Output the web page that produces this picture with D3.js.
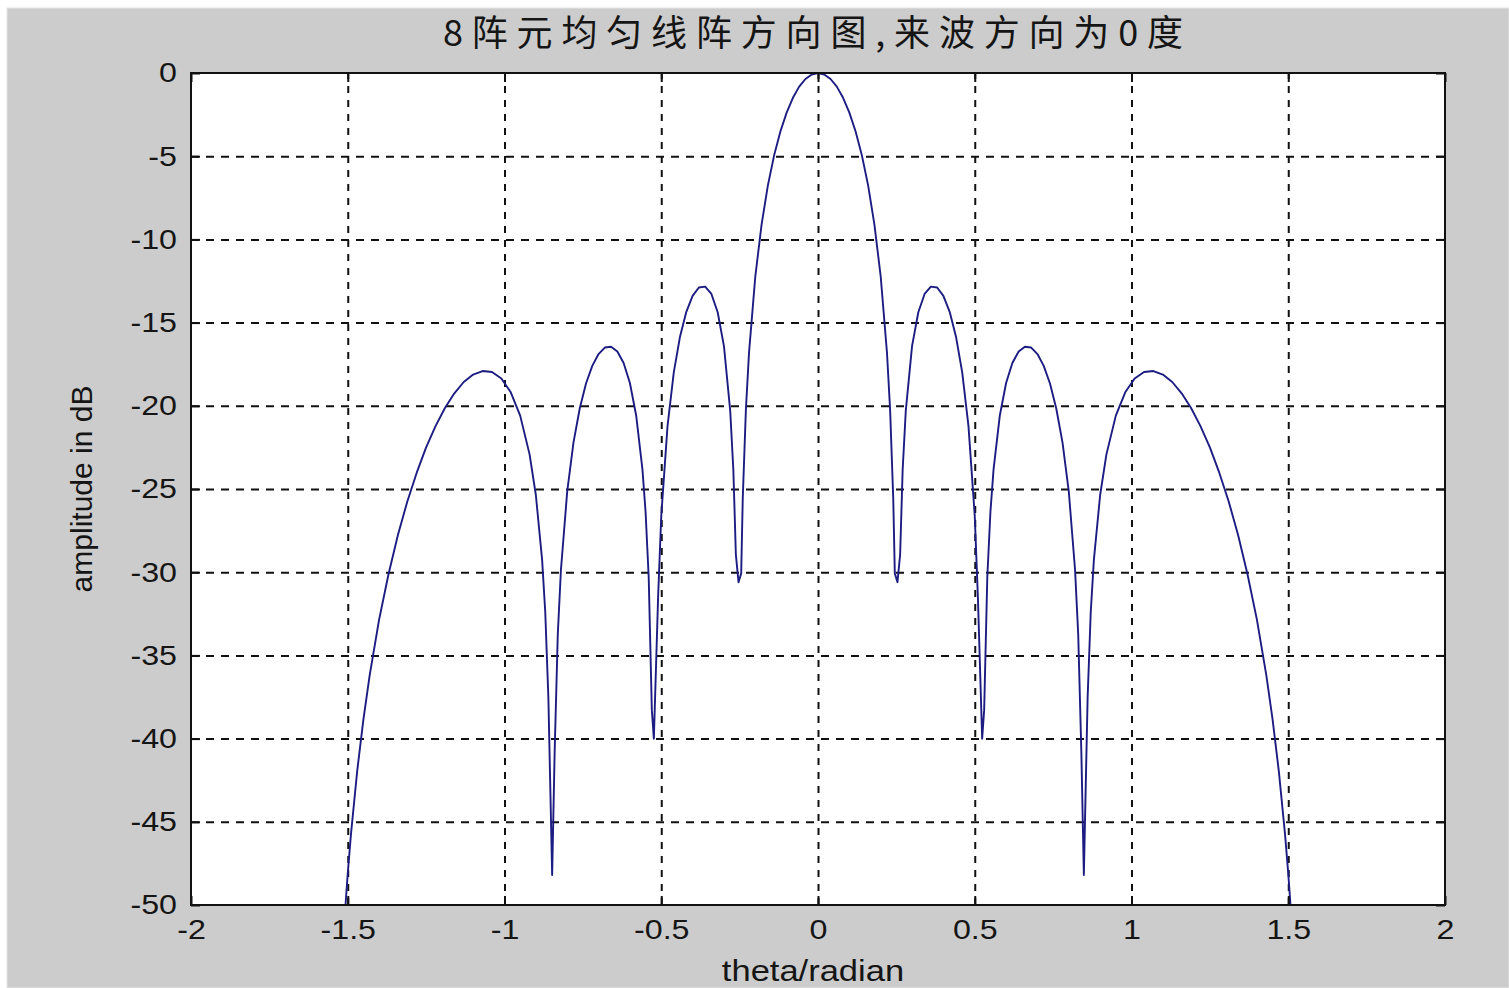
<!DOCTYPE html>
<html>
<head>
<meta charset="utf-8">
<script src="https://cdn.jsdelivr.net/npm/d3@7/dist/d3.min.js"></script>
<style>
  html, body { margin: 0; padding: 0; background: #ffffff; }
  svg { display: block; }
</style>
</head>
<body>
<svg id="chart" width="1509" height="988"></svg>
<script>
// ---------------- data ----------------
const titleText = "8阵元均匀线阵方向图,来波方向为0度";
const xLabelText = "theta/radian";
const yLabelText = "amplitude in dB";

const xTicks = [-2, -1.5, -1, -0.5, 0, 0.5, 1, 1.5, 2];
const xTickLabels = ["-2", "-1.5", "-1", "-0.5", "0", "0.5", "1", "1.5", "2"];
const yTicks = [0, -5, -10, -15, -20, -25, -30, -35, -40, -45, -50];
const yTickLabels = ["0", "-5", "-10", "-15", "-20", "-25", "-30", "-35", "-40", "-45", "-50"];

const theta = [
  -1.51, -1.505, -1.50, -1.49, -1.47, -1.45, -1.43,
  -1.40, -1.37, -1.34, -1.31, -1.28, -1.25, -1.22, -1.19, -1.16, -1.13, -1.10, -1.07, -1.04, -1.01, -0.98, -0.95,
  -0.92, -0.90,
  -0.88, -0.87, -0.86, -0.848, -0.84, -0.83,
  -0.82, -0.80, -0.78, -0.76, -0.74, -0.72, -0.70, -0.68, -0.66, -0.64, -0.62, -0.60, -0.58,
  -0.56, -0.55, -0.54, -0.53, -0.5236, -0.51,
  -0.50, -0.48, -0.46, -0.44, -0.42, -0.40, -0.38, -0.36, -0.34, -0.32, -0.30,
  -0.28, -0.27,
  -0.262, -0.2535, -0.245, -0.24, -0.23,
  -0.22, -0.20, -0.18, -0.16, -0.14, -0.12, -0.10, -0.08, -0.06, -0.04, -0.02,
  0,
  0.02, 0.04, 0.06, 0.08, 0.10, 0.12, 0.14, 0.16, 0.18, 0.20, 0.22,
  0.23, 0.24, 0.245, 0.2535, 0.262,
  0.27, 0.28,
  0.30, 0.32, 0.34, 0.36, 0.38, 0.40, 0.42, 0.44, 0.46, 0.48, 0.50,
  0.51, 0.5236, 0.53, 0.54, 0.55, 0.56,
  0.58, 0.60, 0.62, 0.64, 0.66, 0.68, 0.70, 0.72, 0.74, 0.76, 0.78, 0.80, 0.82,
  0.83, 0.84, 0.848, 0.86, 0.87, 0.88,
  0.90, 0.92,
  0.95, 0.98, 1.01, 1.04, 1.07, 1.10, 1.13, 1.16, 1.19, 1.22, 1.25, 1.28, 1.31, 1.34, 1.37, 1.40,
  1.43, 1.45, 1.47, 1.49, 1.50, 1.505, 1.51
];

const amplitudeDb = [
  -50.8, -49.43, -48.10, -45.80, -41.97, -38.84, -36.19,
  -32.85, -30.12, -27.76, -25.75, -24.02, -22.50, -21.22, -20.13, -19.25, -18.57, -18.12, -17.91, -17.97, -18.36, -19.19, -20.59,
  -22.92, -25.36,
  -29.26, -32.39, -37.56, -48.2, -40.78, -33.72,
  -29.87, -25.16, -22.21, -20.16, -18.66, -17.60, -16.89, -16.50, -16.45, -16.74, -17.43, -18.63, -20.58,
  -23.82, -26.37, -30.32, -38.29, -40.0, -31.48,
  -26.62, -21.22, -17.99, -15.83, -14.35, -13.39, -12.89, -12.84, -13.28, -14.38, -16.41,
  -20.30, -23.86,
  -28.94, -30.6, -30.07, -25.55, -20.23,
  -16.80, -12.23, -9.11, -6.77, -4.95, -3.52, -2.38, -1.49, -0.82, -0.36, -0.09,
  0,
  -0.09, -0.36, -0.82, -1.49, -2.38, -3.52, -4.95, -6.77, -9.11, -12.23, -16.80,
  -20.23, -25.55, -30.07, -30.6, -28.94,
  -23.86, -20.30,
  -16.41, -14.38, -13.28, -12.84, -12.89, -13.39, -14.35, -15.83, -17.99, -21.22, -26.62,
  -31.48, -40.0, -38.29, -30.32, -26.37, -23.82,
  -20.58, -18.63, -17.43, -16.74, -16.45, -16.50, -16.89, -17.60, -18.66, -20.16, -22.21, -25.16, -29.87,
  -33.72, -40.78, -48.2, -37.56, -32.39, -29.26,
  -25.36, -22.92,
  -20.59, -19.19, -18.36, -17.97, -17.91, -18.12, -18.57, -19.25, -20.13, -21.22, -22.50, -24.02, -25.75, -27.76, -30.12, -32.85,
  -36.19, -38.84, -41.97, -45.80, -48.10, -49.43, -50.8
];

// ---------------- layout ----------------
const W = 1509, H = 988;
const pLeft = 191, pRight = 1445, pTop = 73, pBottom = 905;
const STRETCH = 1.15;
const FONT = "'Liberation Sans', Arial, Helvetica, sans-serif";

const svg = d3.select("#chart");

svg.append("rect").attr("x", 0).attr("y", 0).attr("width", W).attr("height", H).attr("fill", "#ffffff");
svg.append("rect").attr("x", 7).attr("y", 8).attr("width", W - 7).attr("height", H - 8)
  .attr("fill", "#cccccc").attr("stroke", "#e4e4e4").attr("stroke-width", 1);

const x = d3.scaleLinear().domain([-2, 2]).range([pLeft, pRight]);
const y = d3.scaleLinear().domain([-50, 0]).range([pBottom, pTop]);

svg.append("rect").attr("x", pLeft).attr("y", pTop)
  .attr("width", pRight - pLeft).attr("height", pBottom - pTop).attr("fill", "#ffffff");

// grid lines (dotted-style dashes), drawn with axes
const gridX = svg.append("g").attr("transform", `translate(0,${pBottom})`)
  .call(d3.axisBottom(x).tickValues(xTicks.filter(v => v > -2 && v < 2)).tickSize(-(pBottom - pTop)).tickFormat(""));
gridX.select(".domain").remove();
gridX.selectAll("line").attr("stroke", "#111").attr("stroke-width", 2).attr("stroke-dasharray", "7,7");

const gridY = svg.append("g").attr("transform", `translate(${pLeft},0)`)
  .call(d3.axisLeft(y).tickValues(yTicks.filter(v => v > -50 && v < 0)).tickSize(-(pRight - pLeft)).tickFormat(""));
gridY.select(".domain").remove();
gridY.selectAll("line").attr("stroke", "#111").attr("stroke-width", 2).attr("stroke-dasharray", "8,7");

// curve
svg.append("clipPath").attr("id", "plotclip").append("rect")
  .attr("x", pLeft).attr("y", pTop).attr("width", pRight - pLeft).attr("height", pBottom - pTop);

const pts = theta.map((t, i) => [t, amplitudeDb[i]]);
const line = d3.line().x(d => x(d[0])).y(d => y(d[1]));
svg.append("path").datum(pts)
  .attr("clip-path", "url(#plotclip)")
  .attr("d", line)
  .attr("fill", "none")
  .attr("stroke", "#1c1c82")
  .attr("stroke-width", 1.9)
  .attr("stroke-linejoin", "round");

// axes with inner ticks and labels
function stretchTexts(sel) {
  sel.each(function () {
    const len = this.getComputedTextLength();
    d3.select(this).attr("textLength", len * STRETCH).attr("lengthAdjust", "spacingAndGlyphs");
  });
}

const axB = svg.append("g").attr("transform", `translate(0,${pBottom})`)
  .call(d3.axisBottom(x).tickValues(xTicks).tickFormat((d, i) => xTickLabels[i]).tickSize(-9).tickPadding(14));
const axT = svg.append("g").attr("transform", `translate(0,${pTop})`)
  .call(d3.axisTop(x).tickValues(xTicks).tickFormat("").tickSize(-9));
const axL = svg.append("g").attr("transform", `translate(${pLeft},0)`)
  .call(d3.axisLeft(y).tickValues(yTicks).tickFormat((d, i) => yTickLabels[i]).tickSize(-9).tickPadding(14));
const axR = svg.append("g").attr("transform", `translate(${pRight},0)`)
  .call(d3.axisRight(y).tickValues(yTicks).tickFormat("").tickSize(-9));

[axB, axT, axL, axR].forEach(a => {
  a.select(".domain").remove();
  a.selectAll("line").attr("stroke", "#111").attr("stroke-width", 2);
  a.selectAll("text").attr("font-family", FONT).attr("font-size", 28).attr("fill", "#151515");
});
stretchTexts(axB.selectAll("text"));
stretchTexts(axL.selectAll("text"));

// box
svg.append("rect").attr("x", pLeft).attr("y", pTop)
  .attr("width", pRight - pLeft).attr("height", pBottom - pTop)
  .attr("fill", "none").attr("stroke", "#111").attr("stroke-width", 2);

// title
svg.append("text")
  .attr("x", 443).attr("y", 46)
  .attr("font-family", "'Noto Sans CJK SC', 'Noto Sans', sans-serif")
  .attr("font-size", 36)
  .attr("fill", "#151515")
  .attr("textLength", 740)
  .attr("lengthAdjust", "spacing")
  .text(titleText);

// x label
const xl = svg.append("text")
  .attr("x", 813).attr("y", 981)
  .attr("text-anchor", "middle")
  .attr("font-family", FONT).attr("font-size", 30).attr("fill", "#151515")
  .text(xLabelText);
stretchTexts(xl);

// y label
svg.append("text")
  .attr("transform", `translate(92,${(pTop + pBottom) / 2}) rotate(-90)`)
  .attr("text-anchor", "middle")
  .attr("font-family", FONT).attr("font-size", 30).attr("fill", "#151515")
  .text(yLabelText);
</script>
</body>
</html>
